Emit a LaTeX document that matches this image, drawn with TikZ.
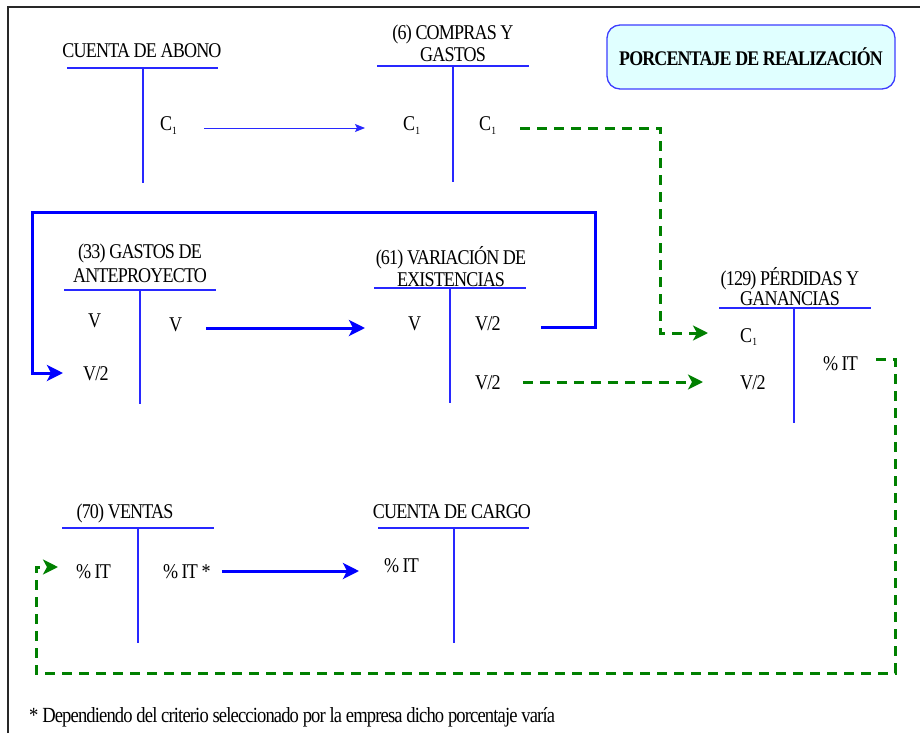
\documentclass[tikz,border=0pt]{standalone}
\usepackage{fontspec}
\setmainfont{Liberation Serif}[FakeStretch=0.86, LetterSpace=-4]
\usetikzlibrary{arrows.meta}

\definecolor{tblue}{RGB}{40,40,255}
\definecolor{abblue}{RGB}{0,0,255}
\definecolor{dgreen}{RGB}{0,128,0}
\definecolor{boxfill}{RGB}{224,255,255}
\definecolor{boxline}{RGB}{60,60,255}
\definecolor{framec}{RGB}{40,40,40}

\newcommand{\fs}{\fontsize{21}{22}\selectfont}
\newcommand{\subone}{\raisebox{-3pt}{\fontsize{11}{11}\selectfont 1}}

\tikzset{
  entry/.style={inner sep=0pt, anchor=base west, text height=13pt, text depth=3pt, font=\fs},
  acct/.style={inner sep=0pt, align=center, anchor=south},
  acctone/.style={inner sep=0pt, anchor=base, font=\fs},
  tline/.style={draw=tblue, line width=1.1pt},
  thinarrow/.style={draw=tblue, line width=1pt, -{Stealth[length=10pt,width=8pt,inset=2pt]}},
  thickarrow/.style={draw=abblue, line width=3pt, line join=miter, -{Stealth[length=16pt,width=16pt,inset=4pt]}},
  greenarrow/.style={draw=dgreen, line width=3pt, dash pattern=on 10pt off 7pt, line join=miter, -{Stealth[length=15pt,width=15pt,inset=4pt]}},
  titlebox/.style={draw=boxline, line width=1.3pt, fill=boxfill, rounded corners=13pt,
    minimum width=288pt, minimum height=64pt, inner sep=0pt, font=\fontsize{20.8}{22}\selectfont\bfseries},
}

\begin{document}
\begin{tikzpicture}[x=1pt,y=-1pt]
\useasboundingbox (0,0) rectangle (920,733);

% frame
\draw[framec, line width=1.6pt] (8,733) -- (8,7) -- (920,7);

% heading box
\node[titlebox] (head) at (751,57) {PORCENTAJE DE REALIZACIÓN};

% account titles
\node[acctone] (tAb) at (142,58) {CUENTA DE ABONO};
\node[acct, font=\fontsize{21}{22}\selectfont] (tCg) at (453,62) {(6) COMPRAS Y\\GASTOS};
\node[acct, font=\fontsize{21}{24}\selectfont] (tAp) at (140,283) {(33) GASTOS DE\\ANTEPROYECTO};
\node[acct, font=\fontsize{21}{22}\selectfont] (tVa) at (451,287) {(61) VARIACIÓN DE\\EXISTENCIAS};
\node[acct, font=\fontsize{21}{20}\selectfont] (tPg) at (790,306) {(129) PÉRDIDAS Y\\GANANCIAS};
\node[acctone] (tVe) at (125,518) {(70) VENTAS};
\node[acctone] (tCc) at (452,518) {CUENTA DE CARGO};

% T-account rulings
\draw[tline] (67,68) -- (218,68) (143,68) -- (143,183);
\draw[tline] (377,66) -- (529,66) (453,66) -- (453,182);
\draw[tline] (64,290) -- (216,290) (140,290) -- (140,404);
\draw[tline] (374,288) -- (526,288) (450,288) -- (450,403);
\draw[tline] (719,308) -- (871,308) (794,308) -- (794,423);
\draw[tline] (62,528) -- (214,528) (138,528) -- (138,643);
\draw[tline] (378,528) -- (529,528) (454,528) -- (454,643);

% entries
\node[entry] (abC)  at (160,131) {C\subone};
\node[entry] (cgL)  at (403,131) {C\subone};
\node[entry] (cgR)  at (479,131) {C\subone};
\node[entry] (apL)  at (88,327)  {V};
\node[entry] (apR)  at (169,331) {V};
\node[entry] (apV2) at (83,380)  {V/2};
\node[entry] (vaL)  at (408,330) {V};
\node[entry] (vaR1) at (475,330) {V/2};
\node[entry] (vaR2) at (475,389) {V/2};
\node[entry] (pgC)  at (740,342) {C\subone};
\node[entry] (pgV2) at (740,389) {V/2};
\node[entry] (pgIT) at (823,370) {\%\,IT};
\node[entry] (veL)  at (76,578)  {\%\,IT};
\node[entry] (veR)  at (163,578) {\%\,IT *};
\node[entry] (ccL)  at (384,572) {\%\,IT};

% footnote
\node[inner sep=0pt, anchor=base west, font=\fontsize{21.6}{22}\selectfont] (note) at (29,722)
  {* Dependiendo del criterio seleccionado por la empresa dicho porcentaje varía};

% routing corners
\coordinate (gk1) at (660,230);
\coordinate (bk1) at (595,212);
\coordinate (bk2) at (32,212);
\coordinate (gk2) at (895,673);
\coordinate (gk3) at (36,673);

% connectors
\draw[thinarrow] ([xshift=27pt,yshift=-2pt]abC.east) -- ([xshift=-38pt,yshift=-2pt]cgL.west);
\draw[greenarrow] ([xshift=24pt,yshift=-2pt]cgR.east) -| (gk1) |- ([xshift=-32pt,yshift=4pt]pgC.west);
\draw[thickarrow] ([xshift=24pt,yshift=-2pt]apR.east) -- ([xshift=-43pt,yshift=-3pt]vaL.west);
\draw[thickarrow] ([xshift=40pt,yshift=-2pt]vaR1.east) -| (bk1) -- (bk2) |- ([xshift=-20pt,yshift=2pt]apV2.west);
\draw[greenarrow] ([xshift=22pt,yshift=2pt]vaR2.east) -- ([xshift=-37pt,yshift=2pt]pgV2.west);
\draw[greenarrow] ([xshift=18pt,yshift=6pt]pgIT.east) -| (gk2) -- (gk3) |- ([xshift=-18pt,yshift=6pt]veL.west);
\draw[thickarrow] ([xshift=11pt,yshift=2pt]veR.east) -- ([xshift=-25pt,yshift=-4pt]ccL.west);
\end{tikzpicture}
\end{document}
